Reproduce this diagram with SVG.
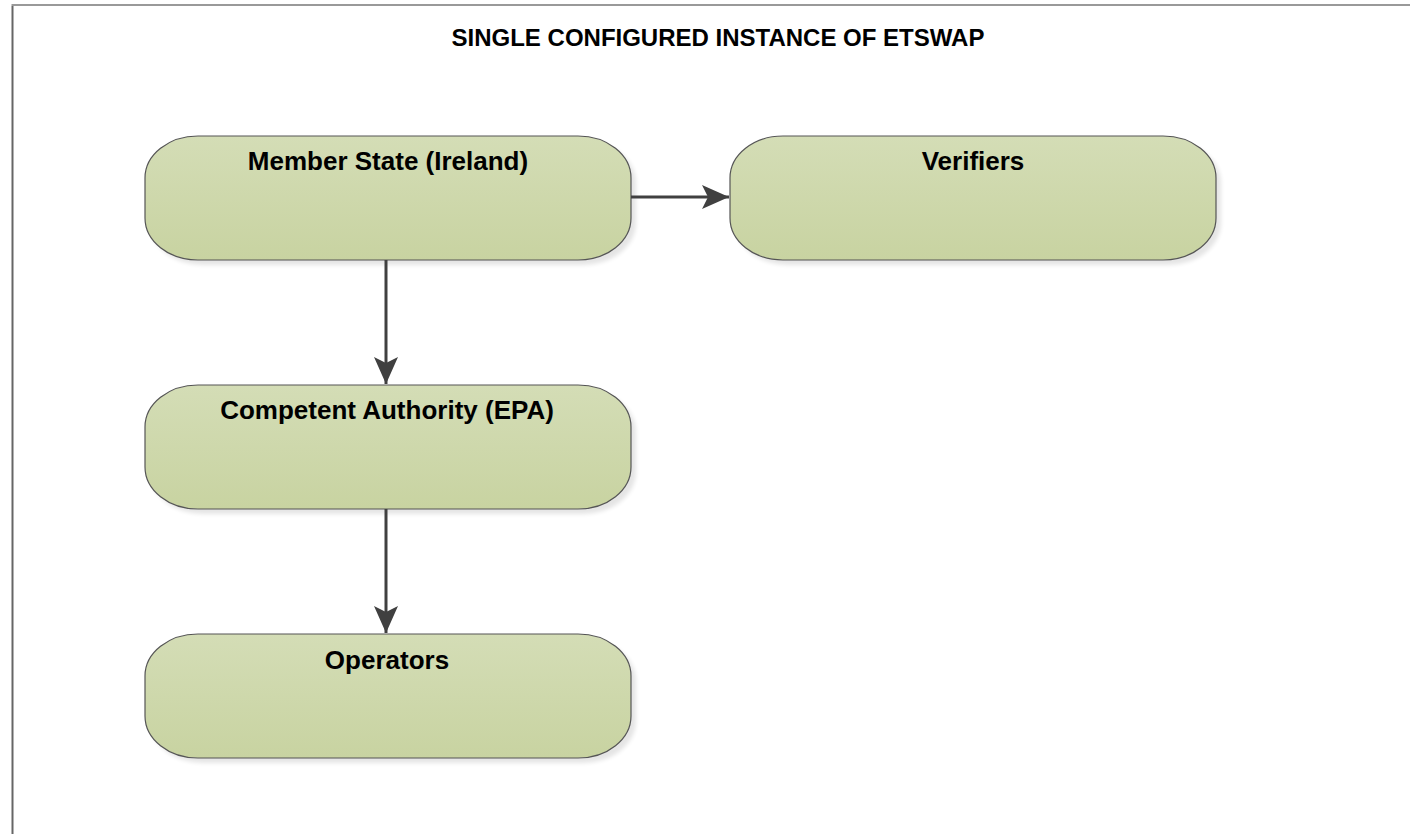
<svg xmlns="http://www.w3.org/2000/svg" width="1410" height="834" viewBox="0 0 1410 834">
<style>
.node{fill:url(#g);stroke:#555;stroke-width:1.2}
.sh{fill:#000;opacity:0.10}
.lbl{font-family:"Liberation Sans",Arial,sans-serif;font-weight:bold;font-size:26px;fill:#000;text-anchor:middle}
.title{font-family:"Liberation Sans",Arial,sans-serif;font-weight:bold;font-size:24px;fill:#000;text-anchor:middle}
.c{stroke:#404040;stroke-width:3;fill:none;marker-end:url(#ah)}
</style>
<defs>
<linearGradient id="g" x1="0" y1="0" x2="0" y2="1">
<stop offset="0" stop-color="#d4ddb6"/>
<stop offset="1" stop-color="#c8d3a1"/>
</linearGradient>
<marker id="ah" markerWidth="10" markerHeight="8" refX="9" refY="4" orient="auto" markerUnits="strokeWidth">
<path d="M0,0 L9,4 L0,8 L2,4 Z" fill="#404040"/>
</marker>
<filter id="blur" x="-10%" y="-10%" width="120%" height="130%"><feGaussianBlur stdDeviation="2"/></filter>
</defs>
<rect width="1410" height="834" fill="#fff"/>
<path d="M12.5,834 V5 H1410" fill="none" stroke="#999" stroke-width="2"/>
<line x1="12.5" y1="6" x2="12.5" y2="834" stroke="#666" stroke-width="1.5"/>
<text class="title" x="718" y="46">SINGLE CONFIGURED INSTANCE OF ETSWAP</text>
<g id="member-state">
<rect class="sh" x="150" y="141" width="486" height="124" rx="53" ry="42" filter="url(#blur)"/>
<rect class="node" x="145" y="136" width="486" height="124" rx="53" ry="42"/>
<text class="lbl" x="388" y="170">Member State (Ireland)</text>
</g>
<g id="verifiers">
<rect class="sh" x="735" y="141" width="486" height="124" rx="53" ry="42" filter="url(#blur)"/>
<rect class="node" x="730" y="136" width="486" height="124" rx="53" ry="42"/>
<text class="lbl" x="973" y="170">Verifiers</text>
</g>
<g id="competent-authority">
<rect class="sh" x="150" y="390" width="486" height="124" rx="53" ry="42" filter="url(#blur)"/>
<rect class="node" x="145" y="385" width="486" height="124" rx="53" ry="42"/>
<text class="lbl" x="387" y="419">Competent Authority (EPA)</text>
</g>
<g id="operators">
<rect class="sh" x="150" y="639" width="486" height="124" rx="53" ry="42" filter="url(#blur)"/>
<rect class="node" x="145" y="634" width="486" height="124" rx="53" ry="42"/>
<text class="lbl" x="387" y="669">Operators</text>
</g>
<g id="connectors">
<line class="c" x1="631" y1="197" x2="729" y2="197"/>
<line class="c" x1="386" y1="260" x2="386" y2="384"/>
<line class="c" x1="386" y1="509" x2="386" y2="633"/>
</g>
</svg>
